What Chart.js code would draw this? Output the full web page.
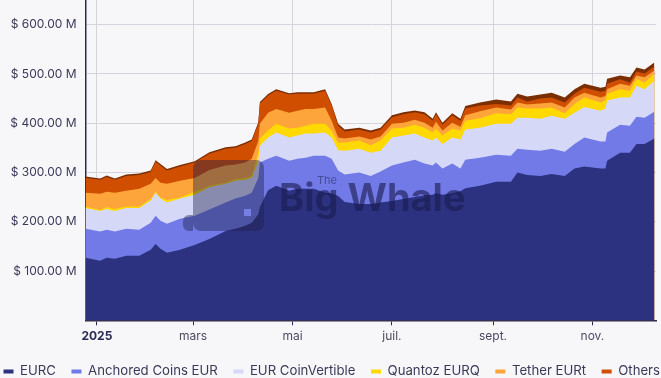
<!DOCTYPE html>
<html>
<head>
<meta charset="utf-8">
<script src="https://cdn.jsdelivr.net/npm/chart.js@4"></script>
<style>
  html, body { margin: 0; padding: 0; background: #f7f7fa; overflow: hidden; width: 661px; height: 378px; }
  #wrap { position: relative; width: 661px; height: 378px; overflow: hidden; font-family: Inter, sans-serif; }
  /* canvas runs past the window on purpose: the reference legend is cut off at the right edge */
  canvas { position: absolute; left: -12px; top: 0; }
  .wm { position: absolute; pointer-events: none; }
  #wm-square { left: 193px; top: 160px; width: 71px; height: 71px; border-radius: 8px; background: rgba(30, 30, 75, .42); }
  #wm-foot { left: 183px; top: 215px; width: 10px; height: 16px; border-radius: 6px 0 0 6px; background: rgba(30, 30, 75, .42); }
  #wm-dot { left: 244px; top: 209px; width: 7px; height: 7px; background: #7480e8; }
  #wm-big { left: 279px; top: 173px; font-size: 38px; line-height: 48px; font-weight: 700; color: rgba(28, 28, 80, .62); white-space: nowrap; }
  #wm-the { left: 317px; top: 174px; font-size: 11px; line-height: 12px; color: rgba(28, 28, 80, .5); }
</style>
</head>
<body>
<div id="wrap">
  <canvas id="chart" width="780" height="388"></canvas>
  <div class="wm" id="wm-square"></div>
  <div class="wm" id="wm-foot"></div>
  <div class="wm" id="wm-dot"></div>
  <div class="wm" id="wm-the">The</div>
  <div class="wm" id="wm-big">Big Whale</div>
</div>
<script>
// days counted from 1 Jan 2025, values in $ M
const days = [-7, 2, 6, 11, 18, 26, 33, 36, 39, 43, 51, 60, 69, 79, 85, 91, 95, 99, 100, 105, 110, 118, 123, 128, 133, 140, 144, 148, 152, 161, 168, 174, 181, 188, 195, 201, 206, 208, 212, 218, 223, 226, 235, 245, 254, 258, 264, 272, 279, 287, 293, 299, 309, 312, 313, 321, 327, 331, 336, 342];
const eurc = [127, 121, 127, 125, 131, 131, 143, 155, 145, 137, 143, 153, 165, 181, 186, 192, 198, 215, 230, 264, 273, 263, 267, 267, 267, 259, 258, 252, 240, 236, 236, 239, 242, 246, 250, 254, 255, 258, 255, 258, 262, 268, 273, 281, 281, 300, 295, 293, 297, 293, 308, 312, 308, 308, 324, 340, 340, 358, 358, 369];
const anchored = [59, 59, 57, 55, 55, 53, 55, 57, 57, 59, 63, 59, 60, 58, 61, 61, 61, 74, 90, 64, 61, 61, 61, 63, 67, 75, 70, 52, 56, 64, 57, 63, 72, 74, 76, 64, 59, 62, 53, 60, 46, 58, 57, 55, 53, 48, 51, 51, 51, 49, 50, 59, 55, 55, 57, 57, 55, 55, 53, 54];
const coinVertible = [42, 42, 42, 42, 42, 44, 45, 47, 45, 43, 41, 43, 45, 38, 36, 32, 30, 35, 34, 43, 47, 47, 47, 49, 45, 47, 43, 41, 48, 48, 47, 42, 57, 55, 53, 53, 51, 51, 50, 53, 59, 61, 61, 63, 65, 63, 65, 65, 67, 67, 63, 62, 62, 67, 65, 55, 57, 63, 58, 63];
const quantoz = [3, 2, 4, 4, 3, 3, 3, 2, 2, 5, 2, 6, 3, 2, 4, 4, 4, 16, 15, 14, 18, 18, 16, 16, 20, 18, 14, 16, 17, 17, 15, 21, 18, 16, 18, 20, 16, 18, 17, 18, 18, 18, 19, 21, 19, 21, 19, 21, 17, 11, 18, 19, 17, 16, 14, 17, 14, 14, 13, 15];
const tether = [28, 33, 31, 33, 32, 36, 31, 28, 30, 33, 34, 28, 32, 35, 29, 31, 35, 24, 30, 36, 30, 32, 34, 34, 30, 33, 20, 10, 8, 8, 12, 8, 10, 10, 10, 10, 10, 14, 10, 12, 8, 11, 14, 12, 10, 10, 8, 10, 10, 12, 13, 10, 10, 9, 9, 11, 10, 7, 11, 6];
const others = [30, 28, 30, 26, 30, 28, 24, 33, 35, 27, 29, 31, 33, 34, 34, 38, 36, 35, 41, 35, 37, 37, 35, 31, 31, 34, 31, 24, 14, 14, 14, 14, 13, 17, 15, 17, 14, 15, 12, 15, 12, 14, 12, 7, 8, 10, 6, 10, 10, 10, 8, 10, 12, 11, 11, 9, 6, 8, 8, 8];
const topEdge = [3, 3, 3, 3, 3, 3, 3, 3, 3, 3, 3, 3, 3, 3, 3, 3, 3, 3, 3, 3, 3, 3, 3, 3, 3, 3, 3, 4, 4, 4, 4, 4, 4, 4, 4, 4, 4, 4, 4, 4, 4, 5, 6, 9, 8, 8, 10, 8, 10, 10, 9, 8, 8, 8, 10, 8, 11, 8, 8, 8];

const tickDays = [0, 59, 120, 181, 243, 304];
const tickNames = ['2025', 'mars', 'mai', 'juil.', 'sept.', 'nov.'];
const seriesNames = ['EURC', 'Anchored Coins EUR', 'EUR CoinVertible', 'Quantoz EURQ', 'Tether EURt', 'Others'];
const seriesColors = ['#2c327f', '#717ae6', '#d5d8f7', '#ffd900', '#fda53a', '#cf4e00'];

const ink = '#2a2a55';
const gridColor = '#d4d4da';

function toPoints(values) {
  return values.map((v, i) => ({ x: days[i], y: v }));
}

const seriesValues = [eurc, anchored, coinVertible, quantoz, tether, others];
const datasets = seriesValues.map((vals, i) => ({
  label: seriesNames[i],
  data: toPoints(vals),
  backgroundColor: seriesColors[i],
  borderColor: seriesColors[i],
  borderWidth: 0,
  pointRadius: 0,
  fill: true,
  tension: 0
}));
// dark rim on top of the stack, not in the legend
datasets.push({
  label: 'edge',
  data: toPoints(topEdge),
  backgroundColor: '#7a2e02',
  borderColor: '#7a2e02',
  borderWidth: 0,
  pointRadius: 0,
  fill: true,
  tension: 0
});

new Chart(document.getElementById('chart'), {
  type: 'line',
  data: { datasets },
  options: {
    responsive: false,
    animation: false,
    plugins: {
      tooltip: { enabled: false },
      legend: {
        position: 'bottom',
        align: 'start',
        labels: {
          boxWidth: 10,
          boxHeight: 4,
          padding: 15.5,
          color: '#3a3a58',
          font: { family: 'Inter', size: 13.2 },
          filter: item => item.text !== 'edge'
        }
      }
    },
    scales: {
      x: {
        type: 'linear',
        min: -7,
        max: 343,
        afterBuildTicks: scale => { scale.ticks = tickDays.map(v => ({ value: v })); },
        afterFit: scale => { scale.height = 29; scale.paddingLeft = 0; scale.paddingRight = 0; },
        grid: { color: gridColor, tickColor: ink, tickLength: 5, lineWidth: 1 },
        border: { color: ink, width: 1.5 },
        ticks: {
          autoSkip: false,
          maxRotation: 0,
          padding: 4,
          color: ctx => ctx.tick && ctx.tick.value === 0 ? ink : '#4a4a62',
          font: ctx => ({
            family: 'Inter',
            size: 12,
            weight: ctx.tick && ctx.tick.value === 0 ? '700' : '400'
          }),
          callback: v => tickNames[tickDays.indexOf(v)]
        }
      },
      y: {
        stacked: true,
        min: 0,
        max: 650,
        afterFit: scale => { scale.width = 97.5; scale.paddingTop = 0; scale.paddingBottom = 0; },
        grid: { color: gridColor, drawTicks: false, lineWidth: 1 },
        border: { color: ink, width: 1.5 },
        ticks: {
          stepSize: 100,
          includeBounds: false,
          padding: 9,
          color: '#3a3a58',
          font: { family: 'Inter', size: 12 },
          callback: v => v === 0 ? '' : '$ ' + v.toFixed(2) + ' M'
        }
      },
      // empty axis that only holds the plot back from the canvas edge
      spacer: {
        position: 'right',
        min: 0,
        max: 1,
        afterFit: scale => { scale.width = 112; scale.paddingTop = 0; scale.paddingBottom = 0; },
        grid: { display: false },
        border: { display: false },
        ticks: { display: false }
      }
    }
  }
});
</script>
</body>
</html>
